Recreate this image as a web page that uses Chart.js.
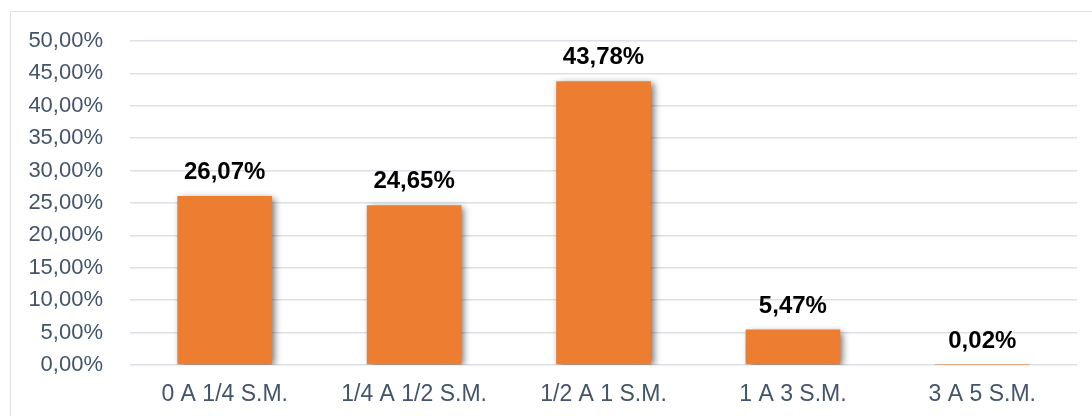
<!DOCTYPE html>
<html>
<head>
<meta charset="utf-8">
<script src="https://cdn.jsdelivr.net/npm/chart.js@4.4.0/dist/chart.umd.min.js"></script>
<style>
  html, body { margin: 0; padding: 0; background: #fff; }
  #wrap { position: relative; width: 1092px; height: 416px; overflow: hidden; }
  #frame { position: absolute; left: 10px; top: 11px; width: 1200px; height: 500px; border: 1.5px solid #DDE2E8; box-sizing: border-box; }
  canvas { position: absolute; left: 0; top: 0; }
</style>
</head>
<body>
<div id="wrap">
  <div id="frame"></div>
  <canvas id="chart" width="1092" height="416"></canvas>
</div>
<script>
const categories = ['0 A 1/4 S.M.', '1/4 A 1/2 S.M.', '1/2 A 1 S.M.', '1 A 3 S.M.', '3 A 5 S.M.'];
const values = [26.07, 24.65, 43.78, 5.47, 0.02];
const yMax = 50;
const yStep = 5;

const fmt = v => v.toFixed(2).replace('.', ',') + '%';

const barShadow = {
  id: 'barShadow',
  beforeDatasetsDraw(chart) {
    const ctx = chart.ctx;
    ctx.save();
    ctx.shadowColor = 'rgba(0,0,0,0.55)';
    ctx.shadowBlur = 7;
    ctx.shadowOffsetX = 3;
    ctx.shadowOffsetY = 2;
  },
  afterDatasetsDraw(chart) {
    chart.ctx.restore();
  }
};

const valueLabels = {
  id: 'valueLabels',
  afterDraw(chart) {
    const ctx = chart.ctx;
    const meta = chart.getDatasetMeta(0);
    ctx.save();
    ctx.font = 'bold 24px "Liberation Sans", Arial, sans-serif';
    ctx.fillStyle = '#000';
    ctx.textAlign = 'center';
    ctx.textBaseline = 'alphabetic';
    meta.data.forEach((bar, i) => {
      ctx.fillText(fmt(values[i]), bar.x, bar.y - 17);
    });
    ctx.restore();
  }
};

new Chart(document.getElementById('chart'), {
  type: 'bar',
  data: {
    labels: categories,
    datasets: [{
      data: values,
      backgroundColor: '#ED7D31',
      borderWidth: 0,
      categoryPercentage: 1,
      barPercentage: 0.5
    }]
  },
  options: {
    responsive: false,
    animation: false,
    events: [],
    layout: { padding: { top: 41, right: 15, left: 0, bottom: 0 } },
    plugins: { legend: { display: false }, tooltip: { enabled: false } },
    scales: {
      x: {
        grid: { display: false, drawTicks: false },
        border: { display: false },
        ticks: {
          padding: 16,
          color: '#44546A',
          font: { family: '"Liberation Sans", Arial, sans-serif', size: 23 }
        },
        afterFit(scale) { scale.height = 51; }
      },
      y: {
        min: 0,
        max: yMax,
        grid: { color: '#DCE1E8', lineWidth: 1.5, drawTicks: false },
        border: { display: false },
        ticks: {
          stepSize: yStep,
          padding: 27,
          color: '#44546A',
          font: { family: '"Liberation Sans", Arial, sans-serif', size: 22 },
          callback: v => fmt(v)
        },
        afterFit(scale) { scale.width = 130; }
      }
    }
  },
  plugins: [barShadow, valueLabels]
});
</script>
</body>
</html>
